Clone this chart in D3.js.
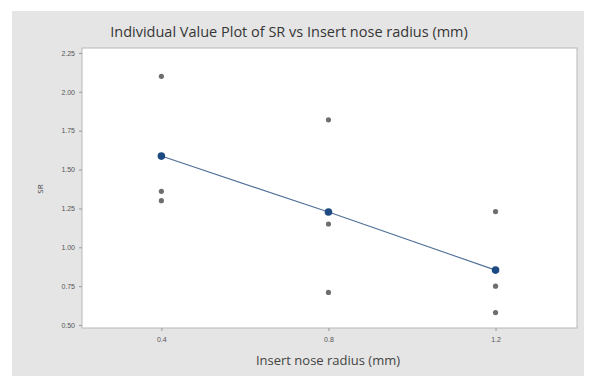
<!DOCTYPE html>
<html>
<head>
<meta charset="utf-8">
<script src="https://cdn.jsdelivr.net/npm/d3@7"></script>
<style>
  body { margin: 0; background: #fff; }
  svg { display: block; font-family: "Open Sans", "DejaVu Sans", sans-serif; }
</style>
</head>
<body>
<div id="chart"></div>
<script>
// data
const radius = [0.4, 0.8, 1.2]
const srValues = [
  [2.10, 1.36, 1.30],
  [1.82, 1.15, 0.71],
  [1.23, 0.75, 0.58]
]
const xTicks = [0.4, 0.8, 1.2]
const yTicks = [0.50, 0.75, 1.00, 1.25, 1.50, 1.75, 2.00, 2.25]

const width = 589, height = 376
const plot = {left: 82, top: 48, right: 577, bottom: 328}

const svg = d3.select('#chart').append('svg')
  .attr('width', width)
  .attr('height', height)

// grey panel behind the plot
svg.append('rect')
  .attr('x', 12).attr('y', 11)
  .attr('width', 572).attr('height', height - 11)
  .style('fill', '#e5e5e5')

const x = d3.scaleLinear().domain([0.21, 1.395]).range([plot.left, plot.right])
const y = d3.scaleLinear().domain([0.481, 2.282]).range([plot.bottom, plot.top])

svg.append('rect')
  .attr('x', plot.left).attr('y', plot.top)
  .attr('width', plot.right - plot.left).attr('height', plot.bottom - plot.top)
  .style('fill', '#fff')
  .style('stroke', '#b8b8b8')
  .style('stroke-width', 1)

// axes
const yAxis = d3.axisLeft(y).tickValues(yTicks).tickFormat(d3.format('.2f')).tickSize(3).tickPadding(4)
const xAxis = d3.axisBottom(x).tickValues(xTicks).tickFormat(d3.format('.1f')).tickSize(3).tickPadding(6)

const gy = svg.append('g').attr('transform', `translate(${plot.left},0)`).call(yAxis)
const gx = svg.append('g').attr('transform', `translate(0,${plot.bottom})`).call(xAxis)
for (let g of [gx, gy]) {
  g.select('.domain').remove()
  g.selectAll('line').style('stroke', '#999')
  g.selectAll('text').style('font-size', '7px').style('fill', '#555')
}

// titles
svg.append('text')
  .attr('x', 289).attr('y', 37)
  .attr('text-anchor', 'middle')
  .style('font-size', '14.5px')
  .style('fill', '#363636')
  .text('Individual Value Plot of SR vs Insert nose radius (mm)')

svg.append('text')
  .attr('x', 328).attr('y', 365)
  .attr('text-anchor', 'middle')
  .style('font-size', '13px')
  .style('fill', '#444')
  .text('Insert nose radius (mm)')

svg.append('text')
  .attr('transform', 'translate(43,189) rotate(-90)')
  .attr('text-anchor', 'middle')
  .style('font-size', '8px')
  .style('fill', '#444')
  .text('SR')

// individual values
let points = []
radius.forEach((r, i) => srValues[i].forEach(v => points.push([r, v])))

svg.append('g').selectAll('circle')
  .data(points)
  .enter().append('circle')
  .attr('cx', d => x(d[0]))
  .attr('cy', d => y(d[1]))
  .attr('r', 2.6)
  .style('fill', '#6e6e6e')

// mean connect line
const means = radius.map((r, i) => [r, d3.mean(srValues[i])])
const line = d3.line().x(d => x(d[0])).y(d => y(d[1]))

svg.append('path')
  .attr('d', line(means))
  .style('fill', 'none')
  .style('stroke', '#4f6f96')
  .style('stroke-width', 1.1)

svg.append('g').selectAll('circle')
  .data(means)
  .enter().append('circle')
  .attr('cx', d => x(d[0]))
  .attr('cy', d => y(d[1]))
  .attr('r', 3.8)
  .style('fill', '#1d4a80')
</script>
</body>
</html>
